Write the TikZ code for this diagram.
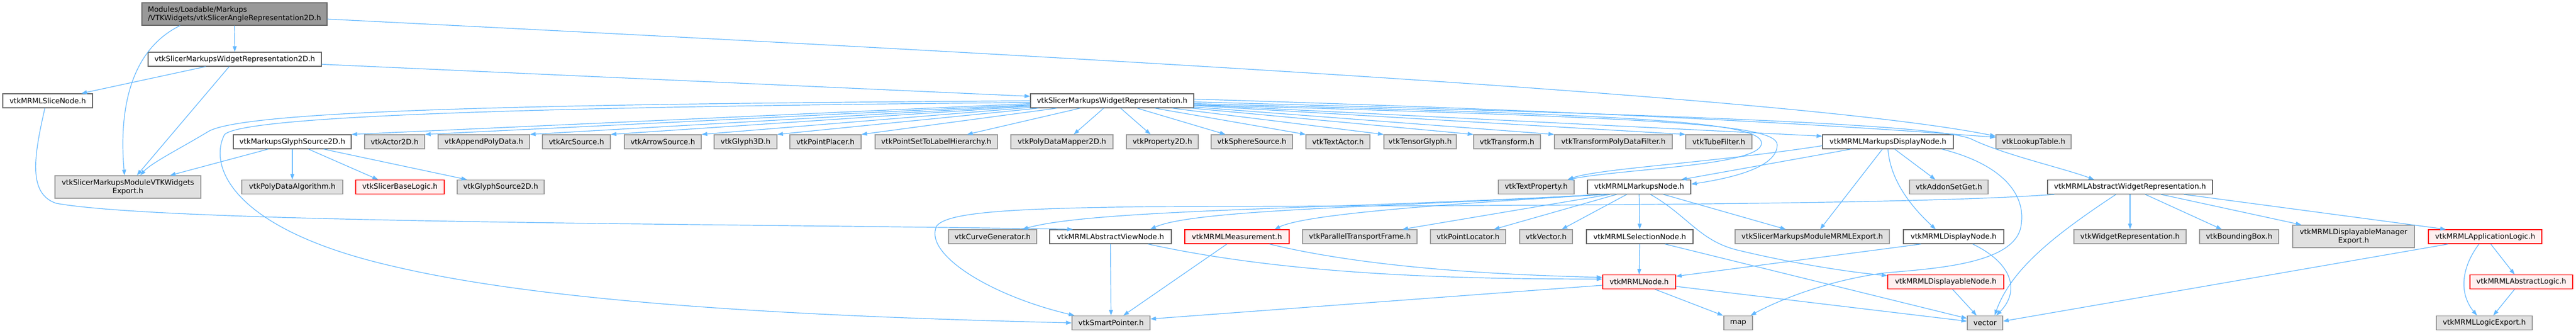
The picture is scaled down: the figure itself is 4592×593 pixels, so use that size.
\documentclass[tikz,border=0pt]{standalone}
\usepackage{fontspec}
\setmainfont{DejaVu Sans}
\usetikzlibrary{arrows.meta}
\definecolor{depblue}{RGB}{99,184,255}
\definecolor{boxgray}{RGB}{224,224,224}
\definecolor{boxdark}{RGB}{102,102,102}
\definecolor{boxmid}{RGB}{153,153,153}
\definecolor{boxpink}{RGB}{255,240,240}

\begin{document}
\begin{tikzpicture}[x=1pt,y=-1pt,
  font=\fontsize{13}{15}\selectfont,
  inc/.style={rectangle,inner sep=0pt,minimum height=25pt,line width=1.3pt,align=center},
  file/.style={inc,draw=boxdark,fill=white},
  sys/.style={inc,draw=boxmid,fill=boxgray},
  missing/.style={inc,draw=red,fill=boxpink},
  rootfile/.style={inc,draw=boxdark,fill=boxmid,align=left,minimum height=40pt},
  dep/.style={draw=depblue,line width=1.2pt,-{Triangle[length=10pt,width=7pt]}}
]
\useasboundingbox (0,0) rectangle (4592,593);

% Text Node: included file
\node[rootfile,minimum width=330pt] (root) at (418,25) {Modules/Loadable/Markups\\/VTKWidgets/vtkSlicerAngleRepresentation2D.h};
% Text Node
\node[file,minimum width=309pt] (repTwoD) at (418.5,105.5) {vtkSlicerMarkupsWidgetRepresentation2D.h};
% Text Node
\node[file,minimum width=160pt] (sliceNode) at (85,179.5) {vtkMRMLSliceNode.h};
% Text Node
\node[file,minimum width=291pt] (widgetRep) at (1982.5,179.5) {vtkSlicerMarkupsWidgetRepresentation.h};

% Text Node: row 3
\node[file,minimum width=210pt] (glyphSrcTwoD) at (521,252.5) {vtkMarkupsGlyphSource2D.h};
\node[sys,minimum width=107pt] (actorTwoD) at (703.5,252.5) {vtkActor2D.h};
\node[sys,minimum width=163pt] (appendPD) at (862.5,252.5) {vtkAppendPolyData.h};
\node[sys,minimum width=121pt] (arcSrc) at (1027.5,252.5) {vtkArcSource.h};
\node[sys,minimum width=137pt] (arrowSrc) at (1181.5,252.5) {vtkArrowSource.h};
\node[sys,minimum width=112pt] (glyphThreeD) at (1329,252.5) {vtkGlyph3D.h};
\node[sys,minimum width=127pt] (pointPlacer) at (1471.5,252.5) {vtkPointPlacer.h};
\node[sys,minimum width=218pt] (labelHier) at (1669,252.5) {vtkPointSetToLabelHierarchy.h};
\node[sys,minimum width=182pt] (mapperTwoD) at (1893,252.5) {vtkPolyDataMapper2D.h};
\node[sys,minimum width=128pt] (propTwoD) at (2072,252.5) {vtkProperty2D.h};
\node[sys,minimum width=145pt] (sphereSrc) at (2231.5,252.5) {vtkSphereSource.h};
\node[sys,minimum width=114pt] (textActor) at (2385,252.5) {vtkTextActor.h};
\node[sys,minimum width=129pt] (tensorGlyph) at (2531.5,252.5) {vtkTensorGlyph.h};
\node[sys,minimum width=119pt] (transform) at (2686.5,252.5) {vtkTransform.h};
\node[sys,minimum width=210pt] (transformPDF) at (2876,252.5) {vtkTransformPolyDataFilter.h};
\node[sys,minimum width=118pt] (tubeFilter) at (3064,252.5) {vtkTubeFilter.h};
\node[file,minimum width=233pt] (mDispNode) at (3365.5,252.5) {vtkMRMLMarkupsDisplayNode.h};
\node[sys,minimum width=134pt] (lookupTable) at (3625,252.5) {vtkLookupTable.h};

% Text Node: row 4
\node[sys,minimum width=260pt,minimum height=40pt] (widgetsExport) at (228,333) {vtkSlicerMarkupsModuleVTKWidgets\\Export.h};
\node[sys,minimum width=180pt] (polyAlgo) at (521,333) {vtkPolyDataAlgorithm.h};
\node[missing,minimum width=158pt] (baseLogic) at (713,333) {vtkSlicerBaseLogic.h};
\node[sys,minimum width=155pt] (glyphSource) at (892.5,333) {vtkGlyphSource2D.h};
\node[sys,minimum width=135pt] (textProp) at (2738.5,333) {vtkTextProperty.h};
\node[file,minimum width=184pt] (markupsNode) at (2922,333) {vtkMRMLMarkupsNode.h};
\node[sys,minimum width=140pt] (addonSetGet) at (3474,333) {vtkAddonSetGet.h};
\node[file,minimum width=294pt] (absWidgetRep) at (3797,333) {vtkMRMLAbstractWidgetRepresentation.h};

% Text Node: row 5
\node[sys,minimum width=157pt] (curveGen) at (1769.5,421.5) {vtkCurveGenerator.h};
\node[file,minimum width=217pt] (absViewNode) at (1979.5,421.5) {vtkMRMLAbstractViewNode.h};
\node[missing,minimum width=186pt] (measurement) at (2205,421.5) {vtkMRMLMeasurement.h};
\node[sys,minimum width=204pt] (transportFrame) at (2424,421.5) {vtkParallelTransportFrame.h};
\node[sys,minimum width=134pt] (pointLocator) at (2617,421.5) {vtkPointLocator.h};
\node[sys,minimum width=94pt] (vtkVec) at (2756,421.5) {vtkVector.h};
\node[file,minimum width=190pt] (selectionNode) at (2923,421.5) {vtkMRMLSelectionNode.h};
\node[sys,minimum width=275pt] (mrmlExport) at (3230.5,421.5) {vtkSlicerMarkupsModuleMRMLExport.h};
\node[file,minimum width=179pt] (displayNode) at (3482.5,421.5) {vtkMRMLDisplayNode.h};
\node[sys,minimum width=200pt] (widgetRepr) at (3797,421.5) {vtkWidgetRepresentation.h};
\node[sys,minimum width=141pt] (boundingBox) at (3991.5,421.5) {vtkBoundingBox.h};
\node[sys,minimum width=217pt,minimum height=40pt] (dmExport) at (4195.5,421) {vtkMRMLDisplayableManager\\Export.h};
\node[missing,minimum width=202pt] (appLogic) at (4430,421.5) {vtkMRMLApplicationLogic.h};

% Text Node: row 6
\node[missing,minimum width=130pt] (mrmlNode) at (2922,502) {vtkMRMLNode.h};
\node[missing,minimum width=207pt] (displayableNode) at (3468.5,502) {vtkMRMLDisplayableNode.h};
\node[missing,minimum width=183pt] (absLogic) at (4494.5,502) {vtkMRMLAbstractLogic.h};

% Text Node: row 7
\node[sys,minimum width=139pt] (smartPtr) at (1980.5,575) {vtkSmartPointer.h};
\node[sys,minimum width=51pt] (mapH) at (3098.5,575) {map};
\node[sys,minimum width=63pt] (vectorH) at (3538.5,575) {vector};
\node[sys,minimum width=171pt] (logicExport) at (4428.5,575) {vtkMRMLLogicExport.h};

% Straight Lines: from the included file
\draw[dep] (root.south) -- (repTwoD.north);
\draw[dep] ([xshift=-97pt]root.south) .. controls (230,90) and (212,200) .. ([xshift=-6pt]widgetsExport.north);
\draw[dep] ([yshift=-9pt]root.east) .. controls (1800,95) and (3200,170) .. ([yshift=10pt]lookupTable.west);

% Straight Lines: vtkSlicerMarkupsWidgetRepresentation2D.h
\draw[dep] ([xshift=-52pt]repTwoD.south) -- ([xshift=60pt]sliceNode.north);
\draw[dep] ([xshift=-10pt]repTwoD.south) -- ([xshift=16pt]widgetsExport.north);
\draw[dep] ([yshift=-9pt]repTwoD.east) -- ([yshift=8pt]widgetRep.west);
\draw[dep] ([xshift=-5pt]sliceNode.south) .. controls (60,280) and (50,345) .. (100,362) .. controls (300,398) and (1300,398) .. ([xshift=-67pt]absViewNode.north);

% Straight Lines: vtkSlicerMarkupsWidgetRepresentation.h
\draw[dep] (widgetRep.west) .. controls (1000,185) and (430,195) .. (370,235) .. controls (320,265) and (270,290) .. ([xshift=22pt]widgetsExport.north);
\draw[dep] ([yshift=-3pt]widgetRep.west) .. controls (1000,190) and (430,205) .. (400,240) .. controls (370,300) and (420,410) .. (700,474) .. controls (1000,545) and (1500,565) .. (smartPtr.west);
\draw[dep] ([yshift=-5pt]widgetRep.west) -- (glyphSrcTwoD.north east);
\draw[dep] (widgetRep) -- (actorTwoD.north east);
\draw[dep] (widgetRep) -- (appendPD.north east);
\draw[dep] (widgetRep) -- (arcSrc.north east);
\draw[dep] (widgetRep) -- (arrowSrc.north east);
\draw[dep] (widgetRep) -- (glyphThreeD.north east);
\draw[dep] (widgetRep) -- (pointPlacer.north east);
\draw[dep] (widgetRep) -- ([xshift=55pt]labelHier.north);
\draw[dep] (widgetRep) -- ([xshift=21pt]mapperTwoD.north);
\draw[dep] (widgetRep) -- ([xshift=-21pt]propTwoD.north);
\draw[dep] (widgetRep) -- ([xshift=-47pt]sphereSrc.north);
\draw[dep] (widgetRep) -- (textActor.north west);
\draw[dep] (widgetRep) -- (tensorGlyph.north west);
\draw[dep] (widgetRep) -- (transform.north west);
\draw[dep] (widgetRep) -- (transformPDF.north west);
\draw[dep] (widgetRep) -- (tubeFilter.north west);
\draw[dep] (widgetRep) -- ([yshift=10pt]mDispNode.west);
\draw[dep] ([yshift=3pt]widgetRep.east) .. controls (2900,200) and (3300,225) .. ([yshift=8pt]lookupTable.west);
\draw[dep] ([yshift=-2pt]widgetRep.east) .. controls (3000,205) and (3460,222) .. (3515,248) .. controls (3570,275) and (3680,300) .. ([xshift=-64pt]absWidgetRep.north);
\draw[dep] ([yshift=-5pt]widgetRep.east) .. controls (2900,205) and (3140,215) .. (3140,255) .. controls (3140,295) and (2900,300) .. ([xshift=56pt]textProp.north);
\draw[dep] ([yshift=-7pt]widgetRep.east) .. controls (2950,210) and (3168,220) .. (3168,258) .. controls (3168,300) and (3080,318) .. ([yshift=5pt]markupsNode.east);

% Straight Lines: vtkMarkupsGlyphSource2D.h
\draw[dep] ([xshift=-43pt]glyphSrcTwoD.south) -- ([xshift=75pt]widgetsExport.north);
\draw[dep] (glyphSrcTwoD.south) -- (polyAlgo.north);
\draw[dep] ([xshift=29pt]glyphSrcTwoD.south) -- ([xshift=-39pt]baseLogic.north);
\draw[dep] ([xshift=56pt]glyphSrcTwoD.south) -- ([xshift=-60pt]glyphSource.north);

% Straight Lines: vtkMRMLMarkupsDisplayNode.h
\draw[dep] ([yshift=-7pt]mDispNode.west) .. controls (3050,290) and (2850,300) .. ([xshift=56pt]textProp.north);
\draw[dep] ([xshift=-66pt]mDispNode.south) -- ([xshift=75pt]markupsNode.north);
\draw[dep] ([xshift=-10pt]mDispNode.south) -- ([xshift=14pt]mrmlExport.north);
\draw[dep] (mDispNode.south) .. controls (3370,330) and (3420,380) .. ([xshift=-32pt]displayNode.north);
\draw[dep] ([xshift=12pt]mDispNode.south) -- ([xshift=-24pt]addonSetGet.north);
\draw[dep] ([xshift=96pt]mDispNode.south) .. controls (3560,290) and (3612,340) .. (3603,400) .. controls (3595,470) and (3450,478) .. (3360,486) .. controls (3250,500) and (3160,540) .. ([xshift=22pt]mapH.north);

% Straight Lines: vtkMRMLMarkupsNode.h
\draw[dep] ([xshift=-65pt]markupsNode.south) .. controls (2400,372) and (1950,372) .. ([xshift=53pt]curveGen.north);
\draw[dep] ([xshift=-62pt]markupsNode.south) .. controls (2500,368) and (2130,372) .. ([xshift=71pt]absViewNode.north);
\draw[dep] ([xshift=-58pt]markupsNode.south) .. controls (2600,362) and (2330,380) .. ([xshift=67pt]measurement.north);
\draw[dep] ([xshift=-52pt]markupsNode.south) -- ([xshift=76pt]transportFrame.north);
\draw[dep] ([xshift=-40pt]markupsNode.south) -- ([xshift=46pt]pointLocator.north);
\draw[dep] ([xshift=-22pt]markupsNode.south) -- ([xshift=28pt]vtkVec.north);
\draw[dep] (markupsNode.south) -- (selectionNode.north);
\draw[dep] ([xshift=43pt]markupsNode.south) -- ([xshift=-47pt]mrmlExport.north);
\draw[dep] ([xshift=20pt]markupsNode.south) .. controls (3010,385) and (3030,430) .. (3100,446) .. controls (3200,470) and (3300,485) .. ([yshift=-2pt]displayableNode.north west);

% Straight Lines: vtkMRMLAbstractWidgetRepresentation.h
\draw[dep] ([xshift=-135pt]absWidgetRep.south) .. controls (3400,366) and (2600,366) .. (2050,368) .. controls (1800,371) and (1690,378) .. (1670,402) .. controls (1645,450) and (1760,525) .. ([xshift=5pt]smartPtr.north west);
\draw[dep] (absWidgetRep.south) -- (widgetRepr.north);
\draw[dep] ([xshift=27pt]absWidgetRep.south) -- ([xshift=-31pt]boundingBox.north);
\draw[dep] ([xshift=55pt]absWidgetRep.south) -- ([xshift=-93pt]dmExport.north);
\draw[dep] ([xshift=96pt]absWidgetRep.south) -- ([xshift=-70pt]appLogic.north);
\draw[dep] ([xshift=-25pt]absWidgetRep.south) .. controls (3660,420) and (3585,480) .. ([xshift=17pt]vectorH.north);

% Straight Lines: lower rows
\draw[dep] (absViewNode.south) -- (smartPtr.north);
\draw[dep] ([xshift=67pt]absViewNode.south) .. controls (2300,490) and (2600,497) .. ([yshift=5pt]mrmlNode.west);
\draw[dep] ([xshift=-18pt]measurement.south) -- ([xshift=22pt]smartPtr.north);
\draw[dep] ([xshift=58pt]measurement.south) .. controls (2450,480) and (2700,490) .. ([yshift=8pt]mrmlNode.west);
\draw[dep] (selectionNode.south) -- (mrmlNode.north);
\draw[dep] ([xshift=45pt]selectionNode.south) -- ([yshift=8pt]vectorH.west);
\draw[dep] ([xshift=-58pt]displayNode.south) -- ([yshift=10pt]mrmlNode.east);
\draw[dep] ([xshift=34pt]displayNode.south) .. controls (3590,470) and (3600,520) .. ([xshift=20pt]vectorH.north);
\draw[dep] ([xshift=12pt]displayableNode.south) -- ([xshift=-15pt]vectorH.north);
\draw[dep] ([xshift=28pt]mrmlNode.south) -- ([xshift=-27pt]mapH.north);
\draw[dep] ([yshift=-8pt]mrmlNode.east) -- ([yshift=3pt]vectorH.west);
\draw[dep] ([yshift=-6pt]mrmlNode.west) -- ([yshift=7pt]smartPtr.east);
\draw[dep] ([xshift=-66pt]appLogic.south) -- ([yshift=3pt]vectorH.east);
\draw[dep] ([xshift=10pt]appLogic.south) -- ([xshift=-12pt]absLogic.north);
\draw[dep] ([xshift=-11pt]appLogic.south) .. controls (4385,480) and (4385,525) .. ([xshift=-13pt]logicExport.north);
\draw[dep] ([xshift=-12pt]absLogic.south) -- ([xshift=16pt]logicExport.north);

\end{tikzpicture}
\end{document}
